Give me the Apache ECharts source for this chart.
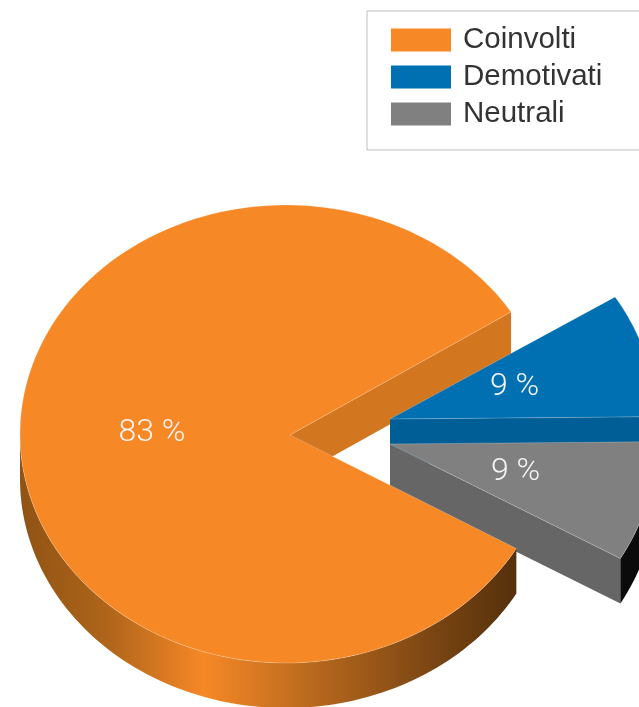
<!DOCTYPE html>
<html><head><meta charset="utf-8">
<style>html,body{margin:0;padding:0;background:#fff}#c{width:639px;height:707px;filter:blur(0.7px)}</style>
<script src="https://cdn.jsdelivr.net/npm/echarts@6/dist/echarts.min.js"></script>
</head><body><div id="c"></div>
<script>
const categories = ['Coinvolti', 'Demotivati', 'Neutrali'];
const values = [82.8, 8.8, 8.5];
const topColors = ['#f68826', '#0070b3', '#808080'];
const cutColors = ['#d27620', '#005e96', '#666666'];

const RX = 266, RY = 229, DEPTH = 45, START = -30;
const centers = [[286, 434], [390, 419], [390, 444]];
const apexes = [[290, 435], [390, 419], [390, 444]];
const labelShift = [[-5, -4], [-3, 0], [-3, -1]];
const total = values.reduce((a, b) => a + b, 0);

// angular spans, clockwise from START (math degrees, screen y flipped)
const spans = []; let cursor = START;
values.forEach(v => { const s = v / total * 360; spans.push([cursor, cursor - s]); cursor -= s; });

function pt(c, deg, dy) {
  const r = deg * Math.PI / 180;
  return [c[0] + RX * Math.cos(r), c[1] - RY * Math.sin(r) + (dy || 0)];
}
function arc(c, a0, a1, dy) {
  const out = [], n = Math.max(2, Math.ceil(Math.abs(a1 - a0) / 1.5));
  for (let i = 0; i <= n; i++) out.push(pt(c, a0 + (a1 - a0) * i / n, dy));
  return out;
}
const orangeWall = {type:'linear',x:20,y:0,x2:516,y2:0,global:true,colorStops:[
  {offset:0,color:'#8f5314'},{offset:.18,color:'#b0651a'},{offset:.37,color:'#f68826'},
  {offset:.57,color:'#bd6c1e'},{offset:.82,color:'#7d4713'},{offset:1,color:'#55300b'}]};
const edge = 'rgba(255,255,255,0.22)';

function renderSlice(params, api) {
  const i = params.seriesIndex, c = centers[i], ap = apexes[i];
  const [a0, a1] = spans[i];
  const top = [ap].concat(arc(c, a0, a1));
  const kids = [];
  const poly = (points, fill, z2, stroke) => kids.push({type:'polygon',z2,shape:{points},style:{fill,stroke:stroke||null,lineWidth:stroke?1:0}});
  const wall = (p, q) => [p, q, [q[0], q[1] + DEPTH], [p[0], p[1] + DEPTH]];
  const label = Math.round(api.value(0)) + ' %';
  const mid = (a0 + a1) / 2;
  const lp = [ap[0] + RX * .5 * Math.cos(mid*Math.PI/180) + labelShift[i][0],
              ap[1] - RY * .5 * Math.sin(mid*Math.PI/180) + labelShift[i][1]];
  if (i === 0) {
    poly(wall(ap, pt(c, a1)), cutColors[0], 1);
    const front = arc(c, -180, a0);
    poly(front.concat(arc(c, a0, -180, DEPTH)), orangeWall, 60);
    poly(top, topColors[0], 70, edge);
  } else if (i === 1) {
    poly(wall(ap, pt(c, a1)), cutColors[1], 20);
    poly(top, topColors[1], 30, edge);
  } else {
    poly(wall(ap, pt(c, a1)), cutColors[2], 40);
    poly(arc(c, a1, a0).concat(arc(c, a0, a1, DEPTH)), '#0b0b0b', 41);
    poly(top, topColors[2], 50, edge);
  }
  kids.push({type:'text',z2:90,style:{x:lp[0],y:lp[1],text:label,fill:'#f4f4f4',align:'center',verticalAlign:'middle',
    font:'300 32px Roboto'}});
  return {type:'group',children:kids};
}

const chart = echarts.init(document.getElementById('c'), null, {renderer:'canvas'});
chart.setOption({
  animation:false,
  legend:{
    data:categories, orient:'vertical', left:367, top:11, icon:'rect', selectedMode:false,
    itemWidth:60, itemHeight:23, itemGap:7,
    padding:[14,60,21,24], borderColor:'#bdbdbd', borderWidth:1, backgroundColor:'#fff',
    textStyle:{fontFamily:'Liberation Sans',fontSize:29.5,color:'#333',padding:[0,0,0,7]}
  },
  series:categories.map((name,i)=>({
    type:'custom', name, coordinateSystem:'none', silent:true,
    itemStyle:{color:topColors[i]},
    data:[[values[i]]], renderItem:renderSlice, clip:false
  }))
});
</script></body></html>
